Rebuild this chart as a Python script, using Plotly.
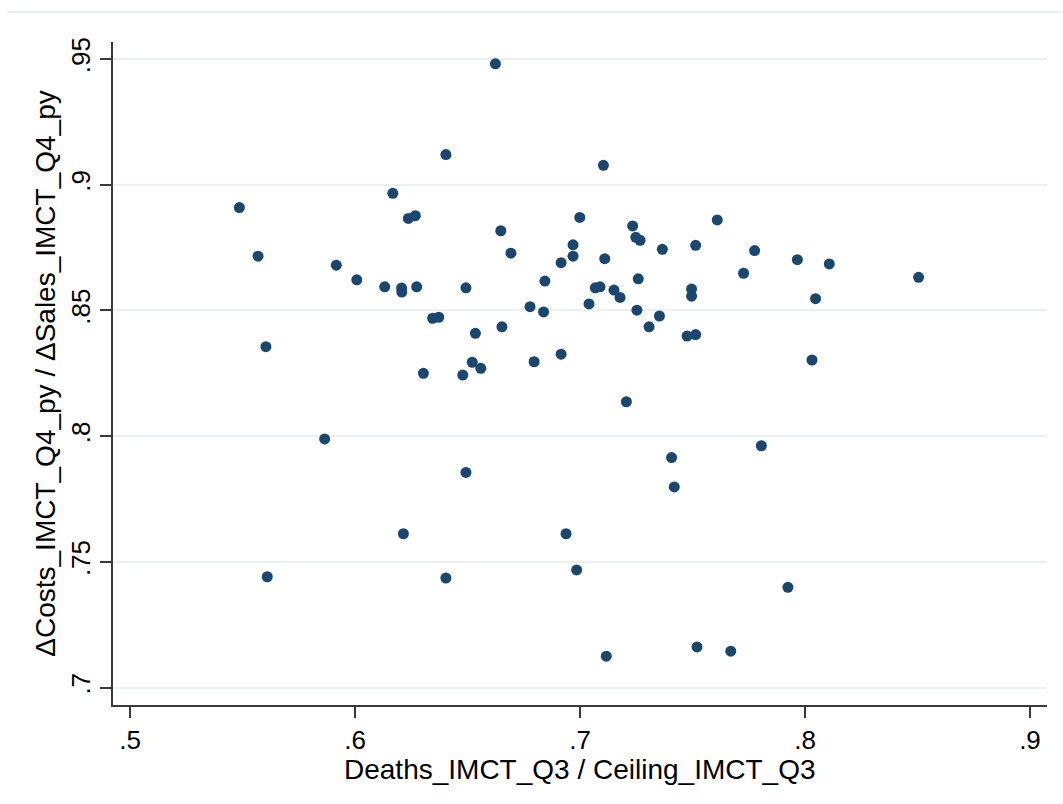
import plotly.graph_objects as go

# Deaths_IMCT_Q3 / Ceiling_IMCT_Q3
death_ratio = [
    0.5486, 0.5569, 0.5604, 0.5610, 0.5865, 0.5917, 0.6008, 0.6132, 0.6168, 0.6207,
    0.6208, 0.6215, 0.6237, 0.6268, 0.6274, 0.6304, 0.6345, 0.6372, 0.6404, 0.6404,
    0.6479, 0.6493, 0.6493, 0.6521, 0.6535, 0.6559, 0.6624, 0.6648, 0.6653, 0.6693,
    0.6778, 0.6796, 0.6838, 0.6844, 0.6916, 0.6916, 0.6938, 0.6969, 0.6969, 0.6985,
    0.6999, 0.7040, 0.7068, 0.7089, 0.7104, 0.7110, 0.7117, 0.7151, 0.7178, 0.7206,
    0.7234, 0.7248, 0.7267, 0.7253, 0.7259, 0.7307, 0.7353, 0.7366, 0.7407, 0.7419,
    0.7476, 0.7496, 0.7496, 0.7514, 0.7514, 0.7520, 0.7610, 0.7670, 0.7727, 0.7776,
    0.7806, 0.7924, 0.7966, 0.8031, 0.8047, 0.8108, 0.8505,
]

# ΔCosts_IMCT_Q4_py / ΔSales_IMCT_Q4_py
cost_sales_ratio = [
    0.8909, 0.8716, 0.8356, 0.7441, 0.7989, 0.8680, 0.8622, 0.8594, 0.8966, 0.8589,
    0.8573, 0.7612, 0.8866, 0.8877, 0.8594, 0.8250, 0.8469, 0.8473, 0.9120, 0.7436,
    0.8243, 0.8590, 0.7856, 0.8294, 0.8409, 0.8270, 0.9481, 0.8817, 0.8435, 0.8728,
    0.8515, 0.8296, 0.8494, 0.8617, 0.8690, 0.8326, 0.7612, 0.8761, 0.8716, 0.7468,
    0.8870, 0.8526, 0.8590, 0.8594, 0.9077, 0.8706, 0.7125, 0.8581, 0.8552, 0.8137,
    0.8836, 0.8791, 0.8779, 0.8501, 0.8626, 0.8435, 0.8478, 0.8743, 0.7915, 0.7798,
    0.8398, 0.8585, 0.8557, 0.8404, 0.8759, 0.7162, 0.8860, 0.7145, 0.8648, 0.8738,
    0.7962, 0.7399, 0.8702, 0.8303, 0.8547, 0.8685, 0.8632,
]

x_tick_values = [0.5, 0.6, 0.7, 0.8, 0.9]
x_tick_labels = [".5", ".6", ".7", ".8", ".9"]
y_tick_values = [0.7, 0.75, 0.8, 0.85, 0.9, 0.95]
y_tick_labels = [".7", ".75", ".8", ".85", ".9", ".95"]

x_title = "Deaths_IMCT_Q3 / Ceiling_IMCT_Q3"
y_title = "ΔCosts_IMCT_Q4_py / ΔSales_IMCT_Q4_py"

FONT = "Liberation Sans, Arial, sans-serif"
AXIS_COLOR = "#3a3a3a"
GRID_COLOR = "#eaf1f3"

fig = go.Figure(
    go.Scatter(
        x=death_ratio,
        y=cost_sales_ratio,
        mode="markers",
        marker=dict(size=11, color="#1a476f", line=dict(width=0)),
        showlegend=False,
    )
)

fig.update_layout(
    template="none",
    width=1063,
    height=804,
    margin=dict(l=113, r=16, t=42, b=99),
    paper_bgcolor="white",
    plot_bgcolor="white",
    font=dict(family=FONT, size=26, color="#000000"),
    # faint outer border line across the top of the graph region
    shapes=[
        dict(
            type="line", xref="paper", yref="paper",
            x0=-0.1135, x1=1.02, y0=1.0452, y1=1.0452,
            line=dict(color="#e6eef0", width=2),
        )
    ],
    # x-axis title placed just under the tick labels
    annotations=[
        dict(
            text=x_title, xref="paper", yref="paper",
            x=0.5, y=-0.0975, xanchor="center", yanchor="middle",
            showarrow=False, font=dict(size=28),
        )
    ],
)

fig.update_xaxes(
    range=[0.49244, 0.90756],
    tickvals=x_tick_values,
    ticktext=x_tick_labels,
    showgrid=False,
    zeroline=False,
    showline=True,
    linecolor=AXIS_COLOR,
    linewidth=1.5,
    ticks="outside",
    ticklen=11,
    tickwidth=1.5,
    tickcolor=AXIS_COLOR,
    tickfont=dict(size=26),
)

fig.update_yaxes(
    range=[0.6931, 0.95676],
    tickvals=y_tick_values,
    ticktext=y_tick_labels,
    tickangle=-90,
    showgrid=True,
    gridcolor=GRID_COLOR,
    gridwidth=2,
    zeroline=False,
    showline=True,
    linecolor=AXIS_COLOR,
    linewidth=1.5,
    ticks="outside",
    ticklen=11,
    tickwidth=1.5,
    tickcolor=AXIS_COLOR,
    tickfont=dict(size=26),
    title=dict(text=y_title, font=dict(size=28), standoff=2),
)

fig.write_html("out.html")
